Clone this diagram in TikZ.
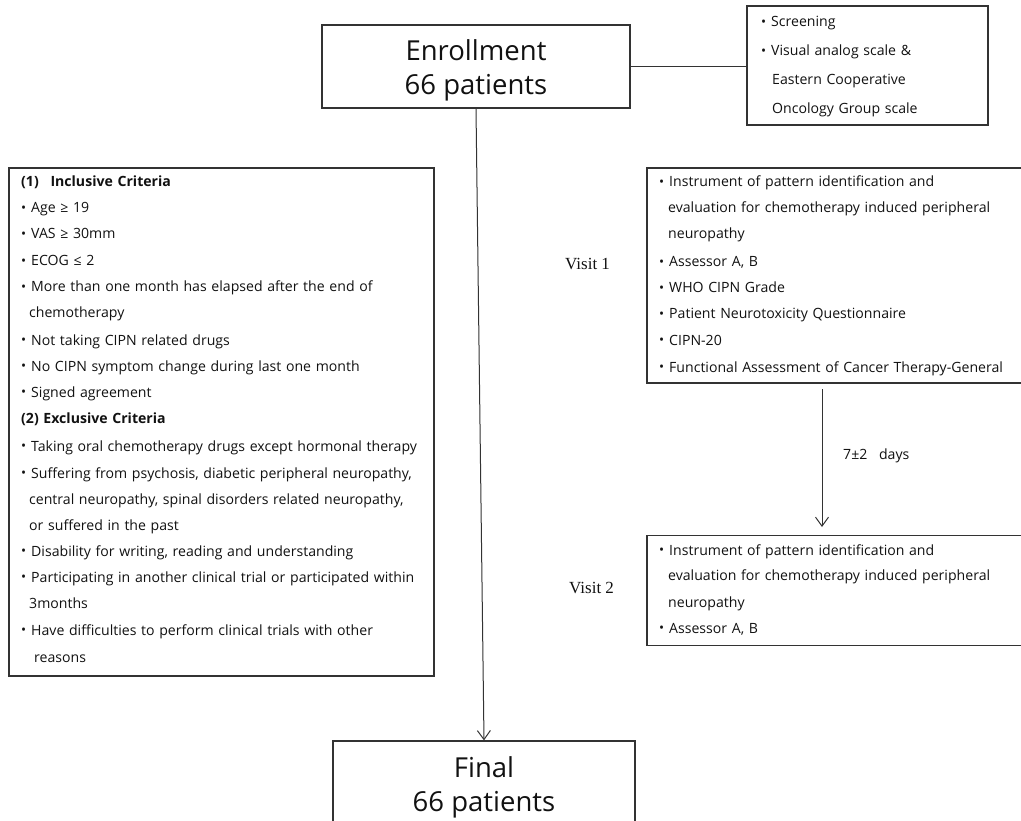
\documentclass[tikz,border=0pt]{standalone}
\usepackage{fontspec}
\setmainfont{Open Sans}
\newfontfamily\serifv{Liberation Serif}
\usetikzlibrary{arrows.meta}
\definecolor{ln}{HTML}{333333}
\definecolor{tx}{HTML}{111111}
\newcommand{\mybul}{\makebox[10pt][l]{\raisebox{0.3pt}{\scalebox{0.95}{•}}}}
\newcommand{\listfont}{\fontsize{14.1}{16}\selectfont\spaceskip=0.33em plus 0.1em\relax}
\tikzset{
  box/.style={draw=ln, line width=1.2pt, rectangle, inner sep=0pt},
  big/.style={align=center, font=\fontsize{27.5}{34}\selectfont, text=tx},
  li/.style={anchor=west, inner sep=0pt, text height=10pt, text depth=3pt, yshift=-1.5pt, font=\listfont, text=tx},
  vis/.style={anchor=west, inner sep=0pt, font=\serifv\fontsize{17}{20}\selectfont, text=tx},
  conn/.style={draw=ln, line width=1pt},
  arr/.style={conn, -{Straight Barb[length=9pt,width=13pt,line width=1pt]}},
}
\begin{document}
\begin{tikzpicture}[x=1pt,y=-1pt]
\useasboundingbox (0,0) rectangle (1021,821);
\clip (0,0) rectangle (1021,821);
% boxes
\node[box, minimum width=308, minimum height=83] (enroll) at (476,66.5) {};
\node[big] (enrollt) at (476,70) {Enrollment\\66 patients};
\node[box, minimum width=241, minimum height=119] (screen) at (867.5,65.5) {};
\node[box, minimum width=425, minimum height=508] (crit) at (221.5,422) {};
\node[box, minimum width=376, minimum height=215] (v1) at (835,275.5) {};
\node[box, minimum width=376, minimum height=110] (v2) at (835,590.5) {};
\node[box, minimum width=302, minimum height=120] (final) at (484,801) {};
\node[big] (finalt) at (484,787) {Final\\66 patients};
% connectors
\draw[conn] (enroll.east) -- (enroll.east -| screen.west);
\draw[arr] (enroll.south) -- (final.north);
\coordinate (a1) at (822,389);
\coordinate (a2) at (822,527);
\draw[arr] (a1) -- (a2);
\node[li] (days) at (843,454) {7±2\hspace{0.5em} days};
% visit labels
\node[vis] (vl1) at (565,264) {Visit 1};
\node[vis] (vl2) at (569,588) {Visit 2};
% screening text
\node[li] (s1) at (761,22) {\mybul Screening};
\node[li] (s2) at (761,51) {\mybul Visual analog scale \&};
\node[li] (s3) at (772,80) {Eastern Cooperative};
\node[li] (s4) at (772,109) {Oncology Group scale};
% criteria text
\node[li] (c1) at (21,182) {\bfseries (1)\hspace{0.5em} Inclusive Criteria};
\node[li] (c2) at (21,208) {\mybul Age ≥ 19};
\node[li] (c3) at (21,234) {\mybul VAS ≥ 30mm};
\node[li] (c4) at (21,260.5) {\mybul ECOG ≤ 2};
\node[li] (c5) at (21,287) {\mybul More than one month has elapsed after the end of};
\node[li] (c6) at (29,313) {chemotherapy};
\node[li] (c7) at (21,340) {\mybul Not taking CIPN related drugs};
\node[li] (c8) at (21,366) {\mybul No CIPN symptom change during last one month};
\node[li] (c9) at (21,392) {\mybul Signed agreement};
\node[li] (c10) at (21,418) {\bfseries (2) Exclusive Criteria};
\node[li] (c11) at (21,446) {\mybul Taking oral chemotherapy drugs except hormonal therapy};
\node[li] (c12) at (21,473) {\mybul Suffering from psychosis, diabetic peripheral neuropathy,};
\node[li] (c13) at (29,499) {central neuropathy, spinal disorders related neuropathy,};
\node[li] (c14) at (29,525) {or suffered in the past};
\node[li] (c15) at (21,551) {\mybul Disability for writing, reading and understanding};
\node[li] (c16) at (21,577) {\mybul Participating in another clinical trial or participated within};
\node[li] (c17) at (29,603) {3months};
\node[li] (c18) at (21,630) {\mybul Have difficulties to perform clinical trials with other};
\node[li] (c19) at (34,657) {reasons};
% visit 1 text
\node[li] (p1) at (659,182) {\mybul Instrument of pattern identification and};
\node[li] (p2) at (668,208) {evaluation for chemotherapy induced peripheral};
\node[li] (p3) at (668,234) {neuropathy};
\node[li] (p4) at (659,262) {\mybul Assessor A, B};
\node[li] (p5) at (659,288) {\mybul WHO CIPN Grade};
\node[li] (p6) at (659,314) {\mybul Patient Neurotoxicity Questionnaire};
\node[li] (p7) at (659,340) {\mybul CIPN-20};
\node[li] (p8) at (659,367) {\mybul Functional Assessment of Cancer Therapy-General};
% visit 2 text
\node[li] (q1) at (659,550) {\mybul Instrument of pattern identification and};
\node[li] (q2) at (668,575) {evaluation for chemotherapy induced peripheral};
\node[li] (q3) at (668,602) {neuropathy};
\node[li] (q4) at (659,628) {\mybul Assessor A, B};
\end{tikzpicture}
\end{document}
